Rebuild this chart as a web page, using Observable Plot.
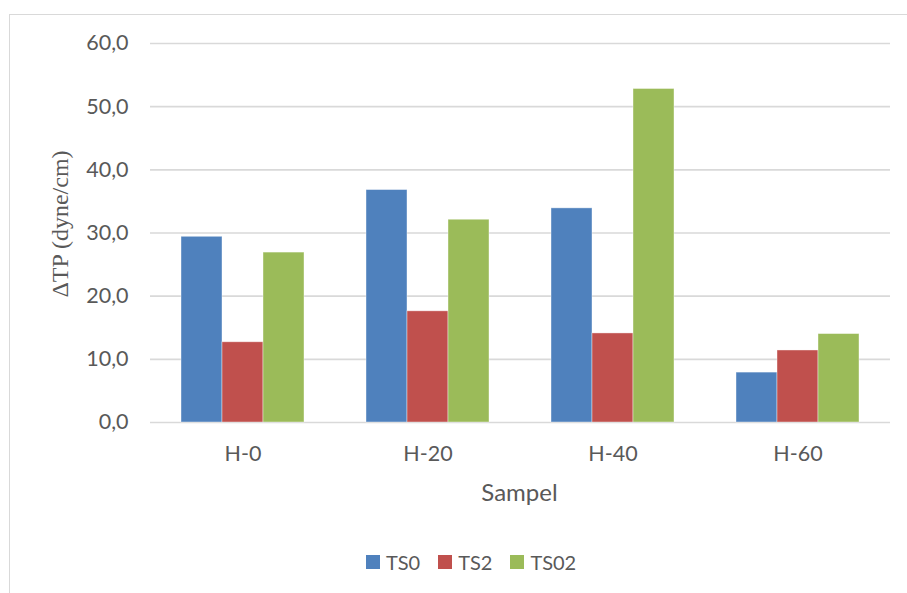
<!DOCTYPE html>
<html>
<head>
<meta charset="utf-8">
<script src="https://cdn.jsdelivr.net/npm/d3@7"></script>
<script src="https://cdn.jsdelivr.net/npm/@observablehq/plot@0.6"></script>
<style>
  html, body { margin: 0; padding: 0; background: #fff; }
  #wrap { position: relative; width: 907px; height: 593px; overflow: hidden; font-family: Lato, "Noto Sans", sans-serif; color: #595959; }
  #border { position: absolute; left: 9px; top: 14px; width: 960px; height: 640px; border: 1px solid #d9d9d9; box-sizing: border-box; }
  #chart { position: absolute; left: 0; top: 0; }
  #xtitle { position: absolute; left: 419.5px; width: 200px; top: 479px; text-align: center; font-size: 24px; line-height: 26px; }
  #ytitle { position: absolute; left: -90px; top: 211px; width: 300px; text-align: center; font-family: "Liberation Serif", "DejaVu Serif", serif; font-size: 24px; line-height: 26px; transform: rotate(-90deg); }
  #legend { position: absolute; left: 366px; top: 551px; display: flex; align-items: center; font-size: 20px; line-height: 22px; }
  #legend .item { display: flex; align-items: center; margin-right: 18px; }
  #legend .sw { width: 14px; height: 14px; margin-right: 6px; }
</style>
</head>
<body>
<div id="wrap">
  <div id="border"></div>
  <div id="chart"></div>
  <div id="ytitle">ΔTP (dyne/cm)</div>
  <div id="xtitle">Sampel</div>
  <div id="legend"></div>
</div>
<script>
// Samples on the category axis
const samples = ["H-0", "H-20", "H-40", "H-60"];
// Series shown side by side within each sample
const series = ["TS0", "TS2", "TS02"];
const colors = ["#4F81BD", "#C0504D", "#9BBB59"];
// ΔTP values (dyne/cm) per series, in sample order
const ts0 = [29.4, 36.8, 33.9, 7.9];
const ts2 = [12.7, 17.6, 14.1, 11.4];
const ts02 = [26.9, 32.1, 52.8, 14.0];
// Y-axis ticks
const yTicks = [0, 10, 20, 30, 40, 50, 60];

const valuesBySeries = [ts0, ts2, ts02];
const rows = [];
samples.forEach((s, i) => {
  series.forEach((k, j) => rows.push({sample: s, series: k, value: valuesBySeries[j][i]}));
});

const fmt = d => d.toFixed(1).replace(".", ",");

const chart = Plot.plot({
  width: 907,
  height: 530,
  marginLeft: 148,
  marginRight: 16,
  marginTop: 43,
  marginBottom: 108,
  style: {fontFamily: "Lato, 'Noto Sans', sans-serif", fontSize: "21.5px", color: "#595959", background: "transparent"},
  fx: {domain: samples, padding: 0, axis: "bottom", tickSize: 0, tickPadding: 23, label: null},
  x: {domain: series, paddingInner: 0, paddingOuter: 0.75, axis: null},
  y: {domain: [0, 60], ticks: yTicks, tickFormat: fmt, tickSize: 0, tickPadding: 22, label: null},
  color: {domain: series, range: colors},
  marks: [
    Plot.ruleY(yTicks, {stroke: "#d9d9d9", strokeWidth: 1.6}),
    Plot.barY(rows, {fx: "sample", x: "series", y: "value", fill: "series", stroke: "#ffffff", strokeOpacity: 0.5, strokeWidth: 0.8})
  ]
});
document.getElementById("chart").appendChild(chart);

// Legend swatches
const legend = document.getElementById("legend");
series.forEach((k, j) => {
  const item = document.createElement("div");
  item.className = "item";
  const sw = document.createElement("div");
  sw.className = "sw";
  sw.style.background = colors[j];
  const label = document.createElement("span");
  label.textContent = k;
  item.appendChild(sw);
  item.appendChild(label);
  legend.appendChild(item);
});
</script>
</body>
</html>
